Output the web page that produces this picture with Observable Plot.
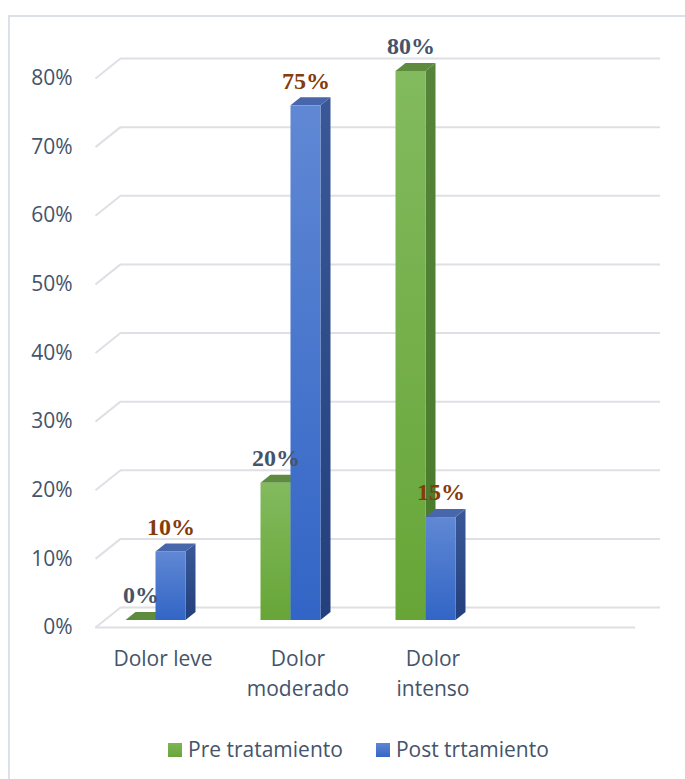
<!DOCTYPE html>
<html>
<head>
<meta charset="utf-8">
<script src="https://cdn.jsdelivr.net/npm/d3@7"></script>
<script src="https://cdn.jsdelivr.net/npm/@observablehq/plot@0.6"></script>
<style>
  html, body { margin: 0; padding: 0; background: #fff; width: 685px; height: 779px; overflow: hidden; }
  #frame { position: absolute; left: 8px; top: 15px; width: 700px; height: 800px;
           border-left: 2px solid #DCE1E9; border-top: 2px solid #DCE1E9; }
  #chart { position: absolute; left: 0; top: 0; }
  #legend { position: absolute; left: 168px; top: 735px; display: flex; align-items: center;
            font-family: "Open Sans", sans-serif; font-size: 21px; color: #44546A; white-space: nowrap; }
  .item { display: flex; align-items: center; }
  .sw { width: 14px; height: 14px; margin-right: 6px; margin-top: 2px; }
</style>
</head>
<body>
<div id="frame"></div>
<div id="chart"></div>
<div id="legend"></div>
<script>
// ---- data ----
const categories = ["Dolor leve", "Dolor moderado", "Dolor intenso"];
const categoryLabels = ["Dolor leve", "Dolor\nmoderado", "Dolor\nintenso"];
const seriesNames = ["Pre tratamiento", "Post trtamiento"];
const preValues = [0, 20, 80];
const postValues = [10, 75, 15];
const yTicks = [0, 10, 20, 30, 40, 50, 60, 70, 80];

// ---- 3D geometry (styling constants, in scale units) ----
const PX_X = 1 / 135;      // one pixel in x units (slot = 135px)
const PX_Y = 1 / 6.8625;   // one pixel in y units
const BW = 30 * PX_X, BXO = -7 * PX_X, BYO = 7 * PX_Y;
const BDX = 10 * PX_X, BDY = 8 * PX_Y;
const WDX = 25 * PX_X, WDY = 20 * PX_Y;
const NSLOTS = categories.length + 1;

const bars = [];
categories.forEach((c, i) => {
  const cx = i + 0.5 + BXO;
  bars.push({id: c + "-pre", s: 0, v: preValues[i], x1: cx - BW, x2: cx});
  bars.push({id: c + "-post", s: 1, v: postValues[i], x1: cx, x2: cx + BW});
});
const sides = bars.flatMap(b => [
  {id: b.id, s: b.s, x: b.x2, y1: BYO, y2: b.v + BYO},
  {id: b.id, s: b.s, x: b.x2 + BDX, y1: BYO + BDY, y2: b.v + BYO + BDY}
]);
const tops = bars.flatMap(b => [
  {id: b.id, s: b.s, y: b.v + BYO, x1: b.x1, x2: b.x2},
  {id: b.id, s: b.s, y: b.v + BYO + BDY, x1: b.x1 + BDX, x2: b.x2 + BDX}
]);

const frontFill = ["url(#gFront)", "url(#bFront)"];
const sideFill = ["url(#gSide)", "url(#bSide)"];
const topFill = ["#5E8B3E", "#4866AC"];
const labelColor = ["#44546A", "#843C0C"];
const gridColor = "#DFE0E5";

function seriesMarks(s) {
  return [
    Plot.areaY(sides.filter(d => d.s === s), {x: "x", y1: "y1", y2: "y2", z: "id", fill: sideFill[s]}),
    Plot.areaX(tops.filter(d => d.s === s), {y: "y", x1: "x1", x2: "x2", z: "id", fill: topFill[s]}),
    Plot.rect(bars.filter(d => d.s === s), {x1: "x1", x2: "x2", y1: () => BYO, y2: d => d.v + BYO, fill: frontFill[s]})
  ];
}

const chart = Plot.plot({
  width: 685,
  height: 720,
  marginLeft: 95,
  marginRight: 50,
  marginTop: 78,
  marginBottom: 93,
  style: {fontFamily: "Open Sans, sans-serif", fontSize: "21px", color: "#44546A", background: "transparent"},
  x: {domain: [0, NSLOTS], axis: null},
  y: {domain: [0, 80], ticks: yTicks, tickFormat: d => d + "%", tickSize: 0, tickPadding: 23, label: null},
  marks: [
    // back wall gridlines
    Plot.ruleY(yTicks, {y: d => d + WDY, x1: WDX, x2: NSLOTS + WDX, stroke: gridColor, strokeWidth: 2}),
    // side wall diagonals
    Plot.link(yTicks, {x1: 0, y1: d => d, x2: WDX, y2: d => d + WDY, stroke: gridColor, strokeWidth: 2}),
    // front floor edge
    Plot.ruleY([0], {x1: 0, x2: NSLOTS, stroke: gridColor, strokeWidth: 2}),
    ...seriesMarks(0),
    ...seriesMarks(1),
    // data labels
    Plot.text(bars, {
      x: d => (d.x1 + d.x2) / 2, y: d => d.v + BYO, text: d => d.v + "%", dy: -25,
      fill: d => labelColor[d.s], fontFamily: "Liberation Serif, Times New Roman, serif",
      fontWeight: "bold", fontSize: 24
    }),
    // category labels
    Plot.text(categoryLabels, {
      x: (d, i) => i + 0.5, y: 0, text: d => d, dy: 17, lineAnchor: "top", lineHeight: 1.43,
      fill: "#44546A", fontSize: 21
    })
  ]
});

// gradients for the bar faces
const defs = d3.select(chart).insert("defs", ":first-child");
function grad(id, c0, c1) {
  const g = defs.append("linearGradient").attr("id", id).attr("x1", 0).attr("y1", 0).attr("x2", 0).attr("y2", 1);
  g.append("stop").attr("offset", "0%").attr("stop-color", c0);
  g.append("stop").attr("offset", "100%").attr("stop-color", c1);
}
grad("gFront", "#82BA5E", "#67A537");
grad("gSide", "#55843A", "#497A2A");
grad("bFront", "#6088D4", "#3265C6");
grad("bSide", "#3A5898", "#233F7C");

document.getElementById("chart").appendChild(chart);

// legend
const legend = d3.select("#legend");
const swatch = [["#7DB652", "#6AA53C"], ["#5F86D2", "#3466C5"]];
seriesNames.forEach((name, i) => {
  const item = legend.append("div").attr("class", "item").style("margin-right", i === 0 ? "33px" : "0");
  item.append("div").attr("class", "sw").style("background", `linear-gradient(${swatch[i][0]}, ${swatch[i][1]})`);
  item.append("span").text(name);
});
</script>
</body>
</html>
